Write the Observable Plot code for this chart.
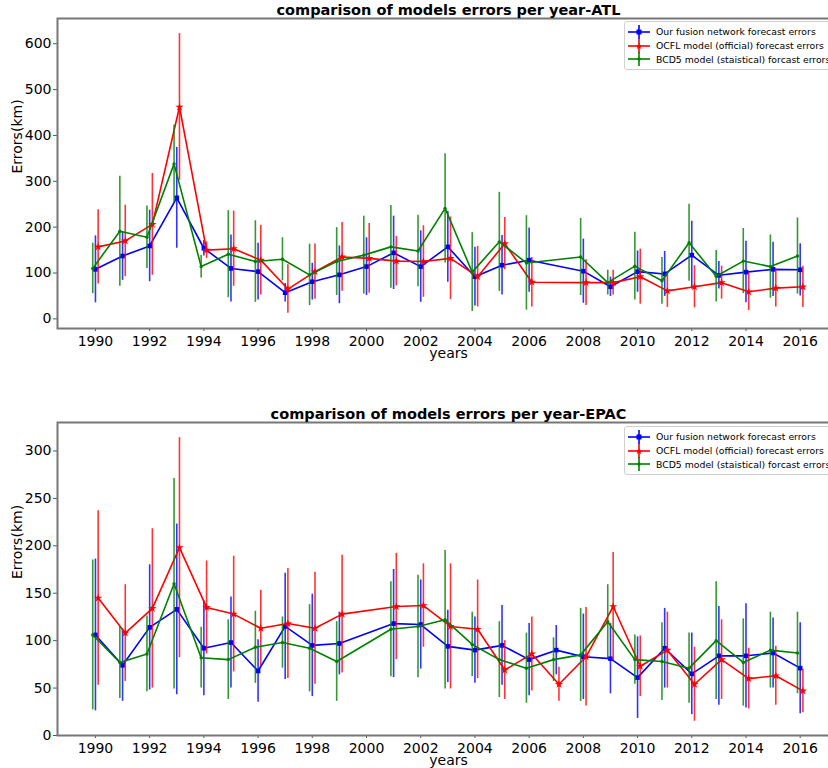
<!DOCTYPE html>
<html>
<head>
<meta charset="utf-8">
<script src="https://cdn.jsdelivr.net/npm/d3@7"></script>
<script src="https://cdn.jsdelivr.net/npm/@observablehq/plot@0.6"></script>
<style>
  html, body { margin: 0; padding: 0; background: white; }
  body { width: 828px; height: 768px; overflow: hidden; position: relative; font-family: "DejaVu Sans", sans-serif; }
  .panel { position: absolute; left: 0; width: 840px; }
  .panel svg { max-width: none !important; }
  .legend { position: absolute; left: 624px; width: 230px; background: rgba(255,255,255,0.85);
            border: 1px solid #d0d0d0; border-radius: 3px; font-size: 9.3px; color: #000; padding: 3px 0; }
  .legend .row { display: flex; align-items: center; height: 13.7px; white-space: nowrap; }
  .legend svg { margin-left: 3px; margin-right: 6px; }
</style>
</head>
<body>
<div id="top" class="panel" style="top:0"></div>
<div id="bottom" class="panel" style="top:400px"></div>
<script>
// ---------------- Data ----------------
const yearsATL = [1990,1991,1992,1993,1994,1995,1996,1997,1998,1999,2000,2001,2002,2003,2004,2005,2006,2008,2009,2010,2011,2012,2013,2014,2015,2016];
const fusionATL    = [108,137,159,264,154,110,103,57,81,96,114,144,114,157,92,117,128,104,70,103,98,139,95,102,108,107];
const fusionATLerr = [73,53,78,110,17,73,62,20,40,63,63,80,78,77,64,65,70,70,21,45,49,74,30,67,59,57];
const ocflATL      = [157,170,206,462,150,153,128,65,103,135,132,126,125,132,92,164,80,79,79,92,61,70,79,59,67,70];
const ocflATLerr   = [81,78,111,160,18,82,76,53,60,75,76,54,78,90,66,57,54,50,27,60,36,46,36,41,41,45];
const bcd5ATL      = [110,191,178,338,114,141,125,130,96,125,139,157,148,241,102,168,122,135,79,115,83,166,93,126,114,137];
const bcd5ATLerr   = [55,120,68,85,25,95,89,47,67,74,85,90,78,119,86,108,103,84,27,74,51,84,56,71,69,83];

const yearsEPAC = [1990,1991,1992,1993,1994,1995,1996,1997,1998,1999,2001,2002,2003,2004,2005,2006,2007,2008,2009,2010,2011,2012,2013,2014,2015,2016];
const fusionEPAC    = [106,74,114,133,92,98,68,115,95,97,118,117,94,90,95,80,90,83,81,61,92,65,84,84,87,71];
const fusionEPACerr = [80,38,66,90,50,48,33,56,54,33,57,47,38,35,42,38,26,45,37,43,42,43,52,55,37,48];
const ocflEPAC      = [145,108,134,198,135,128,113,118,113,128,136,137,115,112,69,86,54,83,136,73,90,54,80,60,63,47];
const ocflEPACerr   = [92,51,84,116,49,61,40,58,59,62,56,44,66,52,31,39,18,52,57,32,40,39,42,32,31,23];
const bcd5EPAC      = [106,77,86,160,82,80,93,98,92,78,112,115,122,96,80,71,80,85,120,80,78,71,100,77,90,87];
const bcd5EPACerr   = [79,38,40,111,32,42,38,27,46,42,50,54,73,34,40,37,23,49,39,26,41,37,62,46,40,43];

const seriesNames = ["Our fusion network forecast errors", "OCFL model (official) forecast errors", "BCD5 model (staistical) forcast errors"];
const seriesColors = ["blue", "red", "green"];
const seriesOffsets = [0, 0.1, -0.1];
const xTicks = [1990,1992,1994,1996,1998,2000,2002,2004,2006,2008,2010,2012,2014,2016];
const yTicksATL = [0,100,200,300,400,500,600];
const yTicksEPAC = [0,50,100,150,200,250,300];

// ---------------- Helpers ----------------
function rows(years, vals, errs, k) {
  return years.map((yr, i) => ({ x: yr + seriesOffsets[k], v: vals[i], lo: vals[i] - errs[i], hi: vals[i] + errs[i] }));
}
const symbols = ["square", "star", "circle"];
const radii = [2.6, 2.6, 1.7];

function chart({ title, years, series, yDomain, yTicks, height, marginTop, marginBottom }) {
  const marks = [];
  series.forEach(([vals, errs], k) => {
    const d = rows(years, vals, errs, k);
    const c = seriesColors[k];
    marks.push(Plot.ruleX(d, { x: "x", y1: "lo", y2: "hi", stroke: c, strokeWidth: 1.6, strokeOpacity: 0.8 }));
    marks.push(Plot.line(d, { x: "x", y: "v", stroke: c, strokeWidth: 1.6 }));
    marks.push(Plot.dot(d, { x: "x", y: "v", fill: c, stroke: "none", symbol: symbols[k], r: radii[k] }));
  });
  return Plot.plot({
    width: 840, height, marginLeft: 57, marginRight: 1, marginTop, marginBottom,
    style: { fontFamily: "DejaVu Sans, sans-serif", fontSize: "14px", color: "black", background: "transparent", overflow: "visible", maxWidth: "none" },
    x: { domain: [1988.6, 2017.45] },
    y: { domain: yDomain },
    marks: [
      Plot.axisY({ ticks: yTicks, tickSize: 4, tickPadding: 2, stroke: "#555", fontSize: 14, label: null }),
      Plot.axisX({ ticks: xTicks, tickFormat: d => String(d), tickSize: 3, tickPadding: 5, stroke: "#555", fontSize: 14, label: null }),
      ...marks,
      Plot.frame({ stroke: "#777", strokeWidth: 2 }),
      Plot.text([title], { frameAnchor: "top", lineAnchor: "middle", dy: -8, fontWeight: "bold", fontSize: 14.5 }),
      Plot.text(["years"], { frameAnchor: "bottom", lineAnchor: "middle", dy: 25, fontSize: 14 }),
      Plot.text(["Errors(km)"], { frameAnchor: "left", lineAnchor: "middle", rotate: -90, dx: -40, fontSize: 14 })
    ]
  });
}

function legend(top) {
  const div = document.createElement("div");
  div.className = "legend";
  div.style.top = top + "px";
  const marker = [
    '<rect x="8.5" y="4.5" width="5" height="5" fill="blue"/>',
    '<path d="M11 4 L12 6.2 L14.3 6.3 L12.5 7.8 L13.2 10 L11 8.7 L8.8 10 L9.5 7.8 L7.7 6.3 L10 6.2Z" fill="red"/>',
    '<circle cx="11" cy="7" r="1.7" fill="green"/>'
  ];
  seriesNames.forEach((name, k) => {
    const row = document.createElement("div");
    row.className = "row";
    row.innerHTML = `<svg width="22" height="14"><line x1="0" x2="22" y1="7" y2="7" stroke="${seriesColors[k]}" stroke-width="1.6"/>` +
      `<line x1="11" x2="11" y1="0" y2="14" stroke="${seriesColors[k]}" stroke-width="1.6"/>${marker[k]}</svg><span>${name}</span>`;
    div.appendChild(row);
  });
  return div;
}

const top1 = document.getElementById("top");
top1.appendChild(chart({
  title: "comparison of models errors per year-ATL", years: yearsATL,
  series: [[fusionATL, fusionATLerr], [ocflATL, ocflATLerr], [bcd5ATL, bcd5ATLerr]],
  yDomain: [-21, 655], yTicks: yTicksATL, height: 400, marginTop: 18, marginBottom: 72
}));
top1.appendChild(legend(21));

const bot = document.getElementById("bottom");
bot.appendChild(chart({
  title: "comparison of models errors per year-EPAC", years: yearsEPAC,
  series: [[fusionEPAC, fusionEPACerr], [ocflEPAC, ocflEPACerr], [bcd5EPAC, bcd5EPACerr]],
  yDomain: [0, 330], yTicks: yTicksEPAC, height: 368, marginTop: 22, marginBottom: 33
}));
bot.appendChild(legend(26));
</script>
</body>
</html>
